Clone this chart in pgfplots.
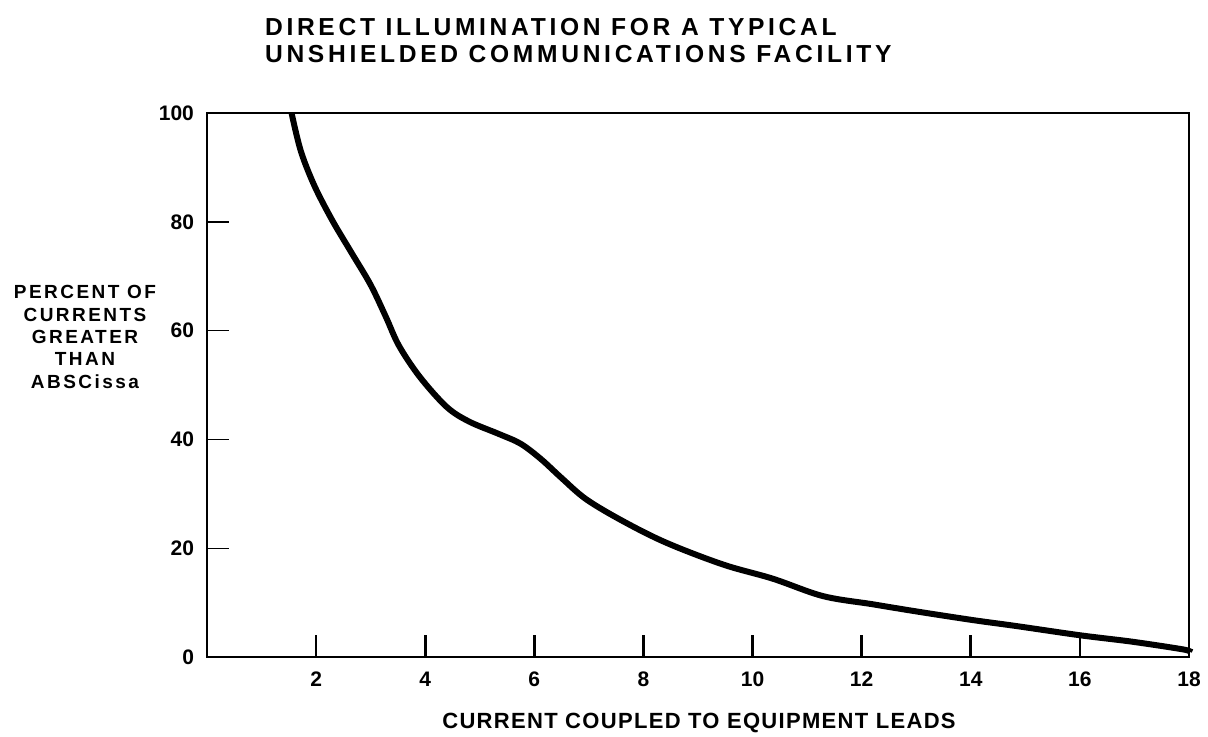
\documentclass[border=0pt]{standalone}
\usepackage{fontspec}
\setmainfont{Liberation Sans}
\newfontfamily\titlefont[LetterSpace=15]{Liberation Sans}
\newfontfamily\lab[LetterSpace=13]{Liberation Sans}
\newfontfamily\xlab[LetterSpace=6]{Liberation Sans}
\usepackage{pgfplots}
\pgfplotsset{compat=1.18}
\begin{document}
\begin{tikzpicture}
\path[use as bounding box] (-103.5pt,-39.5pt) rectangle (500.5pt,328.5pt);
\begin{axis}[
  scale only axis, width=491pt, height=272pt,
  at={(0,0)}, anchor=south west,
  xmin=0, xmax=18, ymin=0, ymax=100,
  axis line style={line width=1.3pt},
  xtick={2,4,...,18}, ytick={0,20,...,100},
  tick pos=left, tick align=inside,
  major tick length=11pt,
  x tick style={line width=1.3pt, black},
  y tick style={line width=0.7pt, black},
  /pgf/number format/assume math mode=true,
  ticklabel style={font=\bfseries\fontsize{10.5}{12}\selectfont},
  xticklabel style={yshift=-4pt},
  yticklabel style={xshift=-3pt},
  clip=false,
]
\addplot[line width=3pt, smooth, tension=0.55] coordinates {
(1.55,100) (1.72,93.0) (1.97,86.6) (2.30,80.2) (2.65,74.3) (3.00,68.4)
(3.28,62.5) (3.52,57.2) (3.90,51.5) (4.39,46.0) (4.80,43.3) (5.35,41.0)
(5.75,39.2) (6.12,36.4) (6.50,32.9) (6.95,29.0) (7.62,25.0) (8.42,21.0)
(9.46,17.0) (10.37,14.4) (11.29,11.2) (12.20,9.7) (12.99,8.4) (14.03,6.8)
(14.83,5.7) (16.0,4.0) (16.97,2.8) (17.89,1.4) (18,1.0)
};
\end{axis}
\node[font=\titlefont\bfseries\fontsize{12.3}{14}\selectfont, anchor=west] at (25.5pt,315pt) {DIRECT ILLUMINATION FOR A TYPICAL};
\node[font=\titlefont\bfseries\fontsize{12.3}{14}\selectfont, anchor=west] at (25.5pt,301.5pt) {UNSHIELDED COMMUNICATIONS FACILITY};
\node[font=\lab\bfseries\fontsize{9.5}{11.2}\selectfont, align=center] at (-61pt,160pt) {PERCENT OF\\CURRENTS\\GREATER\\THAN\\ABSCissa};
\node[font=\xlab\bfseries\fontsize{11}{13}\selectfont] at (246pt,-33pt) {CURRENT COUPLED TO EQUIPMENT LEADS};
\end{tikzpicture}
\end{document}
